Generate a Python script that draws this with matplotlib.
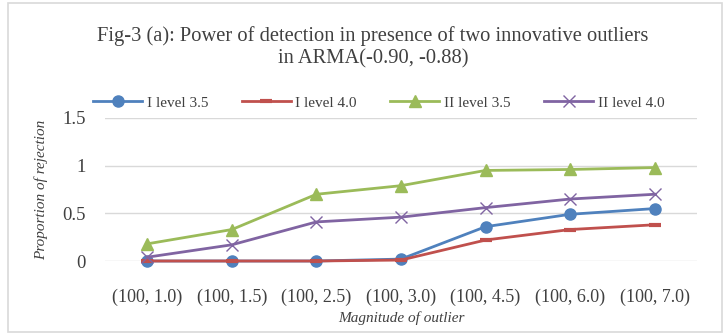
import matplotlib.pyplot as plt
from matplotlib.patches import Rectangle

categories = ["(100, 1.0)", "(100, 1.5)", "(100, 2.5)", "(100, 3.0)",
              "(100, 4.5)", "(100, 6.0)", "(100, 7.0)"]
level1_35 = [0.0, 0.0, 0.0, 0.02, 0.36, 0.49, 0.55]
level1_40 = [0.0, 0.0, 0.0, 0.01, 0.22, 0.33, 0.38]
level2_35 = [0.18, 0.33, 0.70, 0.79, 0.95, 0.96, 0.98]
level2_40 = [0.04, 0.17, 0.41, 0.46, 0.56, 0.65, 0.70]
labels = ["I level 3.5", "I level 4.0", "II level 3.5", "II level 4.0"]

plt.rcParams['font.family'] = ['Liberation Serif', 'DejaVu Serif']

fig = plt.figure(figsize=(7.27, 3.35), dpi=100)
ax = fig.add_axes([105 / 727, 1 - 261 / 335, 592 / 727, 143 / 335])

x = list(range(len(categories)))
ax.plot(x, level1_35, color="#4F81BD", lw=2, marker="o", markersize=8, label=labels[0])
ax.plot(x, level1_40, color="#C0504D", lw=2, marker="_", markersize=9, mew=3, label=labels[1])
ax.plot(x, level2_35, color="#9BBB59", lw=2, marker="^", markersize=8, label=labels[2])
ax.plot(x, level2_40, color="#8064A2", lw=2, marker="x", markersize=8, mew=1, label=labels[3])

ax.set_xlim(-0.5, len(categories) - 0.5)
ax.set_ylim(0, 1.5)
ax.set_yticks([0, 0.5, 1, 1.5])
ax.set_yticklabels(["0", "0.5", "1", "1.5"], fontsize=13.5, color="#404040")
ax.set_xticks(x)
ax.set_xticklabels(categories, fontsize=13, color="#404040")
ax.tick_params(length=0, pad=20, axis="x")
ax.tick_params(length=0, pad=14, axis="y")
ax.grid(axis="y", color="#D9D9D9", lw=1)
ax.set_axisbelow(True)
for s in ax.spines.values():
    s.set_visible(False)
ax.patch.set_alpha(0)
for line in ax.lines:
    line.set_clip_on(False)

ax.set_xlabel("Magnitude of outlier", fontsize=11, style="italic", color="#404040", labelpad=4)
ax.set_ylabel("Proportion of rejection", fontsize=11, style="italic", color="#404040", labelpad=10)

fig.text(0.513, 1 - 47 / 335,
         "Fig-3 (a): Power of detection in presence of two innovative outliers\nin ARMA(-0.90, -0.88)",
         ha="center", va="center", fontsize=14.8, color="#404040", linespacing=1.2)

fig.legend(loc="center", bbox_to_anchor=(0.521, 1 - 103 / 335), ncol=4, frameon=False,
           fontsize=11, handlelength=3.2, columnspacing=2.2, handletextpad=0.3,
           labelcolor="#404040")

fig.patches.append(Rectangle((8 / 727, 3 / 335), 714 / 727, 329 / 335, transform=fig.transFigure,
                             fill=False, edgecolor="#D9D9D9", lw=1.2))

fig.savefig("out.png", dpi=100)
